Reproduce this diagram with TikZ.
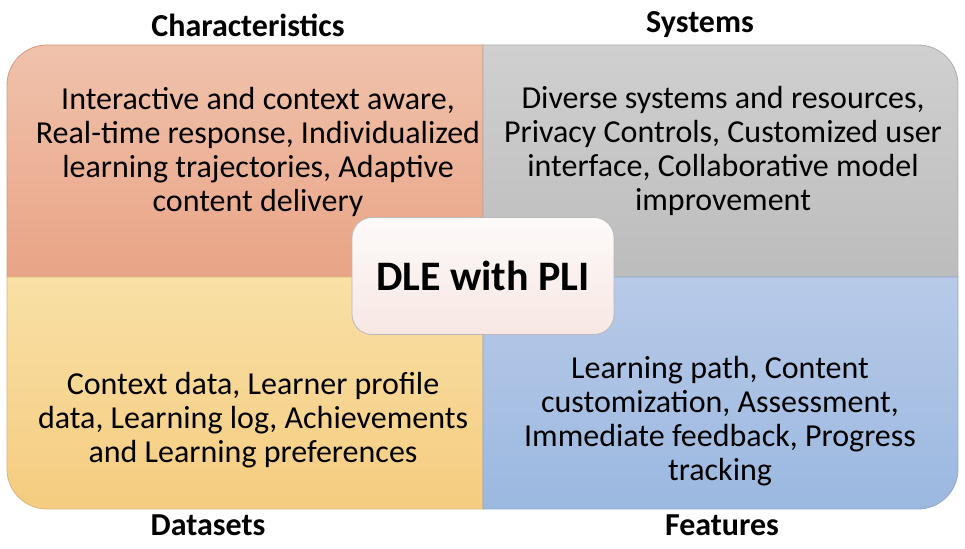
\documentclass[tikz,border=0pt]{standalone}
\usepackage{fontspec}
\setmainfont{Carlito}
\definecolor{salmonTop}{HTML}{F0C2AC}
\definecolor{salmonBot}{HTML}{E9A486}
\definecolor{salmonLine}{HTML}{D99A80}
\definecolor{greyTop}{HTML}{D0D0D0}
\definecolor{greyBot}{HTML}{BCBCBC}
\definecolor{greyLine}{HTML}{ADADAD}
\definecolor{sandTop}{HTML}{F9E0A6}
\definecolor{sandBot}{HTML}{F5CC80}
\definecolor{sandLine}{HTML}{D8B878}
\definecolor{skyTop}{HTML}{B8CAE8}
\definecolor{skyBot}{HTML}{9BB8E0}
\definecolor{skyLine}{HTML}{8FA8CC}
\definecolor{hubTop}{HTML}{FDFAF9}
\definecolor{hubBot}{HTML}{F7E7E3}
\begin{document}
\begin{tikzpicture}[x=1pt,y=1pt,
  body/.style={align=center, font=\fontsize{32}{34}\selectfont, inner sep=0pt},
  head/.style={font=\fontsize{32}{34}\selectfont\bfseries, inner sep=0pt},
  hub/.style={draw=gray!55, line width=0.8pt, rounded corners=20pt,
    minimum width=262pt, minimum height=117pt, top color=hubTop, bottom color=hubBot,
    font=\fontsize{42}{46}\selectfont\bfseries}]
\useasboundingbox (0,0) rectangle (965,548);
\fill[white] (0,0) rectangle (965,548);

% four quadrants, rounded only on their outer corner
\path[top color=salmonTop, bottom color=salmonBot, draw=salmonLine, line width=0.8pt]
  (483,271) -- (483,503) -- (47,503) arc[start angle=90,end angle=180,radius=40] -- (7,271) -- cycle;
\path[top color=greyTop, bottom color=greyBot, draw=greyLine, line width=0.8pt]
  (483,271) -- (483,503) -- (918,503) arc[start angle=90,end angle=0,radius=40] -- (958,271) -- cycle;
\path[top color=sandTop, bottom color=sandBot, draw=sandLine, line width=0.8pt]
  (483,271) -- (483,39) -- (47,39) arc[start angle=270,end angle=180,radius=40] -- (7,271) -- cycle;
\path[top color=skyTop, bottom color=skyBot, draw=skyLine, line width=0.8pt]
  (483,271) -- (483,39) -- (918,39) arc[start angle=270,end angle=360,radius=40] -- (958,271) -- cycle;

% quadrant texts
\node[body] (char) at (258,396) {Interactive and context aware,\\Real-time response, Individualized\\learning trajectories, Adaptive\\content delivery};
\node[body] (sys) at (723,397) {Diverse systems and resources,\\Privacy Controls, Customized user\\interface, Collaborative model\\improvement};
\node[body] (data) at (253,128) {Context data, Learner profile\\data, Learning log, Achievements\\and Learning preferences};
\node[body] (feat) at (720,127) {Learning path, Content\\customization, Assessment,\\Immediate feedback, Progress\\tracking};

% headings
\node[head] (hchar) at (248,523) {Characteristics};
\node[head] (hsys) at (700,523) {Systems};
\node[head] (hdata) at (208,23) {Datasets};
\node[head] (hfeat) at (722,23) {Features};

% central hub
\node[hub] (dle) at (483,272) {DLE with PLI};
\end{tikzpicture}
\end{document}
